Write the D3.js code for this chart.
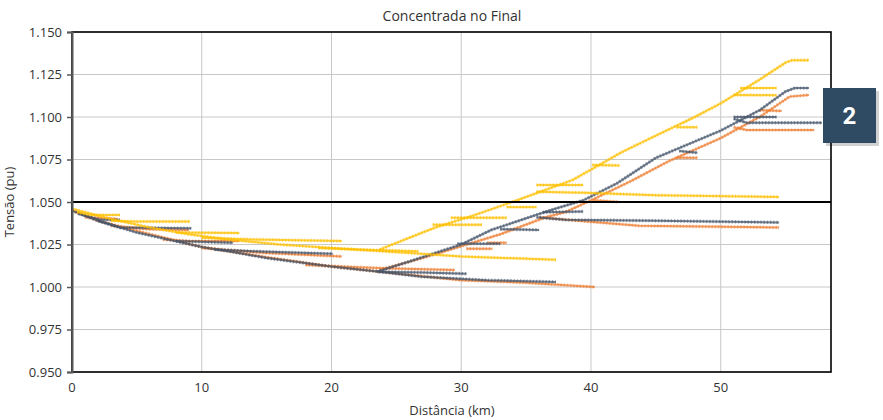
<!DOCTYPE html>
<html>
<head>
<meta charset="utf-8">
<script src="https://cdn.jsdelivr.net/npm/d3@7"></script>
<style>
  body { margin: 0; background: #fff; }
  text { font-family: "Open Sans", "Liberation Sans", sans-serif; }
</style>
</head>
<body>
<div id="chart"></div>
<script>
// Chart size
const width = 883;
const height = 420;
const margin = { top: 32, right: 52, bottom: 48, left: 72 };

const xTicks = [0, 10, 20, 30, 40, 50];
const yTicks = [0.950, 0.975, 1.000, 1.025, 1.050, 1.075, 1.100, 1.125, 1.150];
const limitValue = 1.050;

// Voltage profiles [km, pu], one list of branches per colour
const blueLines = [
    [[0, 1.045], [2, 1.039], [5, 1.032], [10, 1.0235], [12.5, 1.0205], [15, 1.017], [20, 1.012], [23.7, 1.009], [27, 1.0085], [30.4, 1.0078]],
    [[23.7, 1.009], [27, 1.006], [32, 1.004], [37.3, 1.003]],
    [[23.5, 1.009], [26, 1.015], [30, 1.025], [32.3, 1.0335], [36.8, 1.045], [39.4, 1.051], [42, 1.061], [45, 1.076], [50, 1.092], [53, 1.104], [55, 1.115], [55.7, 1.117], [56.8, 1.117]],
    [[0.5, 1.043], [2.2, 1.0395], [3.7, 1.0395]],
    [[2, 1.039], [3.7, 1.035], [9.2, 1.0345]],
    [[8, 1.027], [12.4, 1.026]],
    [[11, 1.022], [14, 1.021], [20.1, 1.0195]],
    [[29.7, 1.0255], [33, 1.0255]],
    [[33, 1.034], [36, 1.0336]],
    [[36.3, 1.044], [39.4, 1.0444]],
    [[35.8, 1.041], [38, 1.0395], [45, 1.039], [54.5, 1.038]],
    [[46.8, 1.080], [48.2, 1.079]],
    [[51, 1.099], [52, 1.0966], [57.8, 1.0966]],
    [[51, 1.100], [54.3, 1.100]]
];

const orangeLines = [
    [[0, 1.045], [2, 1.039], [5, 1.033], [10, 1.0235], [12.5, 1.0205], [15, 1.0175], [20, 1.012], [25, 1.008], [30, 1.004], [35, 1.0025], [40.3, 1.000]],
    [[23.7, 1.010], [27, 1.017], [30, 1.024], [33, 1.031], [36.5, 1.041], [38, 1.044], [40, 1.051], [43, 1.062], [46, 1.074], [50, 1.0876], [53, 1.100], [55.3, 1.112], [56.8, 1.113]],
    [[1, 1.041], [3.5, 1.040]],
    [[3, 1.036], [6, 1.034], [9, 1.0335]],
    [[7, 1.028], [9, 1.027], [12.9, 1.027]],
    [[10, 1.023], [15, 1.020], [20.8, 1.018]],
    [[18, 1.013], [24, 1.011], [29.5, 1.010]],
    [[30.4, 1.0225], [32.4, 1.0225]],
    [[32, 1.026], [33.5, 1.026]],
    [[36, 1.041], [39, 1.039], [43.7, 1.036], [54.5, 1.035]],
    [[40.2, 1.051], [42.2, 1.050]],
    [[46.6, 1.076], [48.2, 1.076]],
    [[51, 1.094], [52, 1.0923], [57.2, 1.0923]],
    [[53, 1.104], [54.7, 1.1036]]
];

const yellowLines = [
    [[0, 1.046], [3, 1.040], [6, 1.035], [9, 1.031], [12, 1.028], [16, 1.025], [20, 1.023], [24, 1.021], [30, 1.018], [37.3, 1.016]],
    [[23.7, 1.022], [26, 1.029], [28, 1.035], [30.9, 1.042], [34.3, 1.051], [38.6, 1.063], [40, 1.069], [42.3, 1.079], [45, 1.089], [48, 1.100], [50, 1.108], [53, 1.122], [55, 1.132], [55.5, 1.1334], [56.8, 1.1334]],
    [[0.4, 1.044], [1.5, 1.0424], [3.7, 1.0424]],
    [[3, 1.039], [5, 1.0385], [9.1, 1.0385]],
    [[8, 1.032], [12.9, 1.0318]],
    [[10, 1.029], [14, 1.028], [20.8, 1.027]],
    [[19, 1.023], [22, 1.022], [26.7, 1.021]],
    [[27.8, 1.0366], [31.6, 1.0366]],
    [[29.2, 1.0407], [33.5, 1.0407]],
    [[33.5, 1.047], [35.8, 1.047]],
    [[35.8, 1.056], [39.4, 1.0555], [45, 1.054], [54.5, 1.053]],
    [[35.8, 1.060], [39.4, 1.060]],
    [[40.1, 1.0718], [42.2, 1.0715]],
    [[46.6, 1.094], [48.2, 1.094]],
    [[51, 1.113], [54.3, 1.1128]],
    [[51.5, 1.117], [54.3, 1.117]]
];

const seriesColors = { blue: "#44546a", orange: "#ed7d31", yellow: "#ffc000" };

const svg = d3.select("#chart")
    .append("svg")
    .attr("width", width)
    .attr("height", height);

const innerW = width - margin.left - margin.right;
const innerH = height - margin.top - margin.bottom;

const x = d3.scaleLinear().domain([0, 58.5]).range([margin.left, margin.left + innerW]);
const y = d3.scaleLinear().domain([0.95, 1.15]).range([margin.top + innerH, margin.top]);

// Gridlines
svg.append("g")
    .selectAll("line")
    .data(yTicks)
    .join("line")
    .attr("x1", margin.left).attr("x2", margin.left + innerW)
    .attr("y1", d => y(d)).attr("y2", d => y(d))
    .attr("stroke", "#c8c8c8").attr("stroke-width", 1);

svg.append("g")
    .selectAll("line")
    .data(xTicks.filter(d => d > 0))
    .join("line")
    .attr("x1", d => x(d)).attr("x2", d => x(d))
    .attr("y1", margin.top).attr("y2", margin.top + innerH)
    .attr("stroke", "#c8c8c8").attr("stroke-width", 1);

// Profiles
const line = d3.line().x(d => x(d[0])).y(d => y(d[1]));

function drawSeries(lines, color) {
    const g = svg.append("g");
    lines.forEach(pts => {
        g.append("path")
            .attr("d", line(pts))
            .attr("fill", "none")
            .attr("stroke", color)
            .attr("stroke-width", 2)
            .attr("stroke-opacity", 0.75);
        g.append("path")
            .attr("d", line(pts))
            .attr("fill", "none")
            .attr("stroke", color)
            .attr("stroke-width", 3.4)
            .attr("stroke-opacity", 0.5)
            .attr("stroke-dasharray", "1.4,1.8");
    });
}

drawSeries(orangeLines, seriesColors.orange);
drawSeries(blueLines, seriesColors.blue);
drawSeries(yellowLines, seriesColors.yellow);

// Limit line
svg.append("line")
    .attr("x1", margin.left).attr("x2", margin.left + innerW)
    .attr("y1", y(limitValue)).attr("y2", y(limitValue))
    .attr("stroke", "#000").attr("stroke-width", 2);

// Frame
svg.append("rect")
    .attr("x", margin.left).attr("y", margin.top)
    .attr("width", innerW).attr("height", innerH)
    .attr("fill", "none").attr("stroke", "#000").attr("stroke-width", 1.6);

// Y axis
const yAxis = svg.append("g")
    .attr("transform", `translate(${margin.left},0)`)
    .call(d3.axisLeft(y).tickValues(yTicks).tickFormat(d3.format(".3f")).tickSize(5));
yAxis.select(".domain").attr("stroke", "#595959").attr("stroke-width", 2);
yAxis.selectAll(".tick line").attr("stroke", "#595959").attr("stroke-width", 1.5);
yAxis.selectAll("text").attr("font-size", 13).attr("fill", "#333").attr("dx", -2);

// X axis labels
svg.append("g")
    .selectAll("text")
    .data(xTicks)
    .join("text")
    .attr("x", d => x(d))
    .attr("y", margin.top + innerH + 20)
    .attr("text-anchor", "middle")
    .attr("font-size", 13)
    .attr("fill", "#333")
    .text(d => d);

// Titles
svg.append("text")
    .attr("x", 452).attr("y", 21)
    .attr("text-anchor", "middle")
    .attr("font-size", 14)
    .attr("fill", "#333")
    .text("Concentrada no Final");

svg.append("text")
    .attr("x", 452).attr("y", 415)
    .attr("text-anchor", "middle")
    .attr("font-size", 13)
    .attr("fill", "#333")
    .text("Distância (km)");

svg.append("text")
    .attr("transform", `translate(14,${y(1.05)}) rotate(-90)`)
    .attr("text-anchor", "middle")
    .attr("font-size", 13)
    .attr("fill", "#333")
    .text("Tensão (pu)");

// Badge
svg.append("rect")
    .attr("x", 826).attr("y", 91).attr("width", 53).attr("height", 55)
    .attr("fill", "#000").attr("opacity", 0.18);
svg.append("rect")
    .attr("x", 823).attr("y", 88).attr("width", 53).attr("height", 55)
    .attr("fill", "#2f4b63");
svg.append("text")
    .attr("x", 849.5).attr("y", 124)
    .attr("text-anchor", "middle")
    .attr("font-size", 24)
    .attr("font-weight", "bold")
    .attr("fill", "#fff")
    .style("font-family", "Roboto, 'Liberation Sans', sans-serif")
    .text("2");
</script>
</body>
</html>
